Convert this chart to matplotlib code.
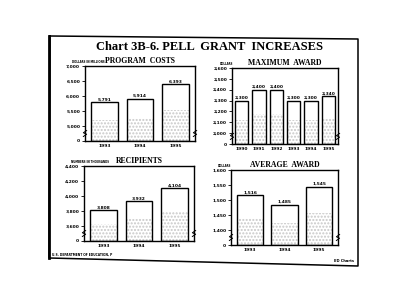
import numpy as np
import matplotlib
matplotlib.use('Agg')
from matplotlib import pyplot as plt
from matplotlib.lines import Line2D

W, H = 400, 306

# program costs, dollars in millions
cost_years = ['1993', '1994', '1995']
cost_values = [5791, 5914, 6393]
cost_ticks = [5000, 5500, 6000, 6500, 7000]

# maximum award, dollars
max_years = ['1990', '1991', '1992', '1993', '1994', '1995']
max_values = [2300, 2400, 2400, 2300, 2300, 2340]
max_ticks = [2000, 2100, 2200, 2300, 2400, 2500, 2600]

# recipients, numbers in thousands
rec_years = ['1993', '1994', '1995']
rec_values = [3808, 3932, 4104]
rec_ticks = [3600, 3800, 4000, 4200, 4400]

# average award, dollars
avg_years = ['1993', '1994', '1995']
avg_values = [1516, 1485, 1545]
avg_ticks = [1400, 1450, 1500, 1550, 1600]

SERIF = 'Liberation Serif'


def fx(px):
    return px / W


def fy(py):
    return 1 - py / H


def draw_panel(fig, rect, years, values, ticks, title, unit):
    ax = fig.add_axes(rect)
    step = ticks[1] - ticks[0]
    base = ticks[0] - step  # where the broken "0" sits
    x = np.arange(len(years))
    vals = np.array(values)
    # stipple in lower part of bars
    ax.bar(x, (vals - base) * 0.55, bottom=base, width=0.76, color='white',
           hatch='.....', edgecolor='#c8c8c8', linewidth=0, zorder=1)
    ax.bar(x, vals - base, bottom=base, width=0.76, facecolor='none',
           edgecolor='black', linewidth=1.0, zorder=2)
    for xi, v in zip(x, values):
        ax.text(xi, v + step * 0.05, f'{v:,}', ha='center', va='bottom',
                fontsize=3.2, fontweight='bold', family='DejaVu Sans')
    ax.set_xlim(-0.55, len(years) - 0.45)
    ax.set_ylim(base, ticks[-1])
    ax.set_yticks([base] + ticks)
    ax.set_yticklabels(['0'] + [f'{t:,}' for t in ticks])
    ax.set_xticks(x)
    ax.set_xticklabels(years)
    ax.tick_params(axis='y', labelsize=3.2, length=2, width=0.6, pad=1.5)
    ax.tick_params(axis='x', labelsize=3.2, length=0, pad=2)
    for lab in ax.get_xticklabels() + ax.get_yticklabels():
        lab.set_fontweight('bold')
    for s in ax.spines.values():
        s.set_linewidth(1.0)
    ax.set_title(title, fontsize=5.6, fontweight='bold', family=SERIF, pad=2)
    ax.text(-0.12, 1.03, unit, transform=ax.transAxes, fontsize=1.9,
            fontweight='bold', ha='left', va='bottom')
    # break marks on both sides
    for xb in (0.0, 1.0):
        ax.plot([xb - 0.015, xb + 0.015, xb - 0.015, xb + 0.015],
                [0.06, 0.09, 0.11, 0.14], transform=ax.transAxes,
                color='black', linewidth=0.7, clip_on=False, zorder=3)
    return ax


fig = plt.figure(figsize=(W / 100, H / 100), dpi=100)
fig.patch.set_facecolor('white')

# page frame
frame = [(50, 36), (358, 39), (358, 266), (49, 258), (50, 36)]
fig.add_artist(Line2D([fx(p[0]) for p in frame], [fy(p[1]) for p in frame],
                      transform=fig.transFigure, color='black', linewidth=1.1))
fig.add_artist(Line2D([fx(49), fx(49)], [fy(36), fy(258)],
                      transform=fig.transFigure, color='black', linewidth=2.0))

fig.text(fx(210), fy(47), 'Chart 3B-6. PELL  GRANT  INCREASES', ha='center',
         va='center', fontsize=9, fontweight='bold', family=SERIF)

draw_panel(fig, [fx(85), fy(141), fx(110), 75 / H], cost_years, cost_values,
           cost_ticks, 'PROGRAM  COSTS', 'DOLLARS IN MILLIONS')
draw_panel(fig, [fx(232), fy(144), fx(106), 76 / H], max_years, max_values,
           max_ticks, 'MAXIMUM  AWARD', 'DOLLARS')
draw_panel(fig, [fx(84), fy(241), fx(110), 75 / H], rec_years, rec_values,
           rec_ticks, 'RECIPIENTS', 'NUMBERS IN THOUSANDS')
draw_panel(fig, [fx(231), fy(245), fx(107), 75 / H], avg_years, avg_values,
           avg_ticks, 'AVERAGE  AWARD', 'DOLLARS')

fig.text(fx(52), fy(255), 'U.S. DEPARTMENT OF EDUCATION, P', fontsize=2.2,
         fontweight='bold', ha='left', va='center')
fig.text(fx(354), fy(261), 'ED Charts', fontsize=2.6, fontweight='bold',
         ha='right', va='center')

fig.savefig('out.png', dpi=100, facecolor='white')
